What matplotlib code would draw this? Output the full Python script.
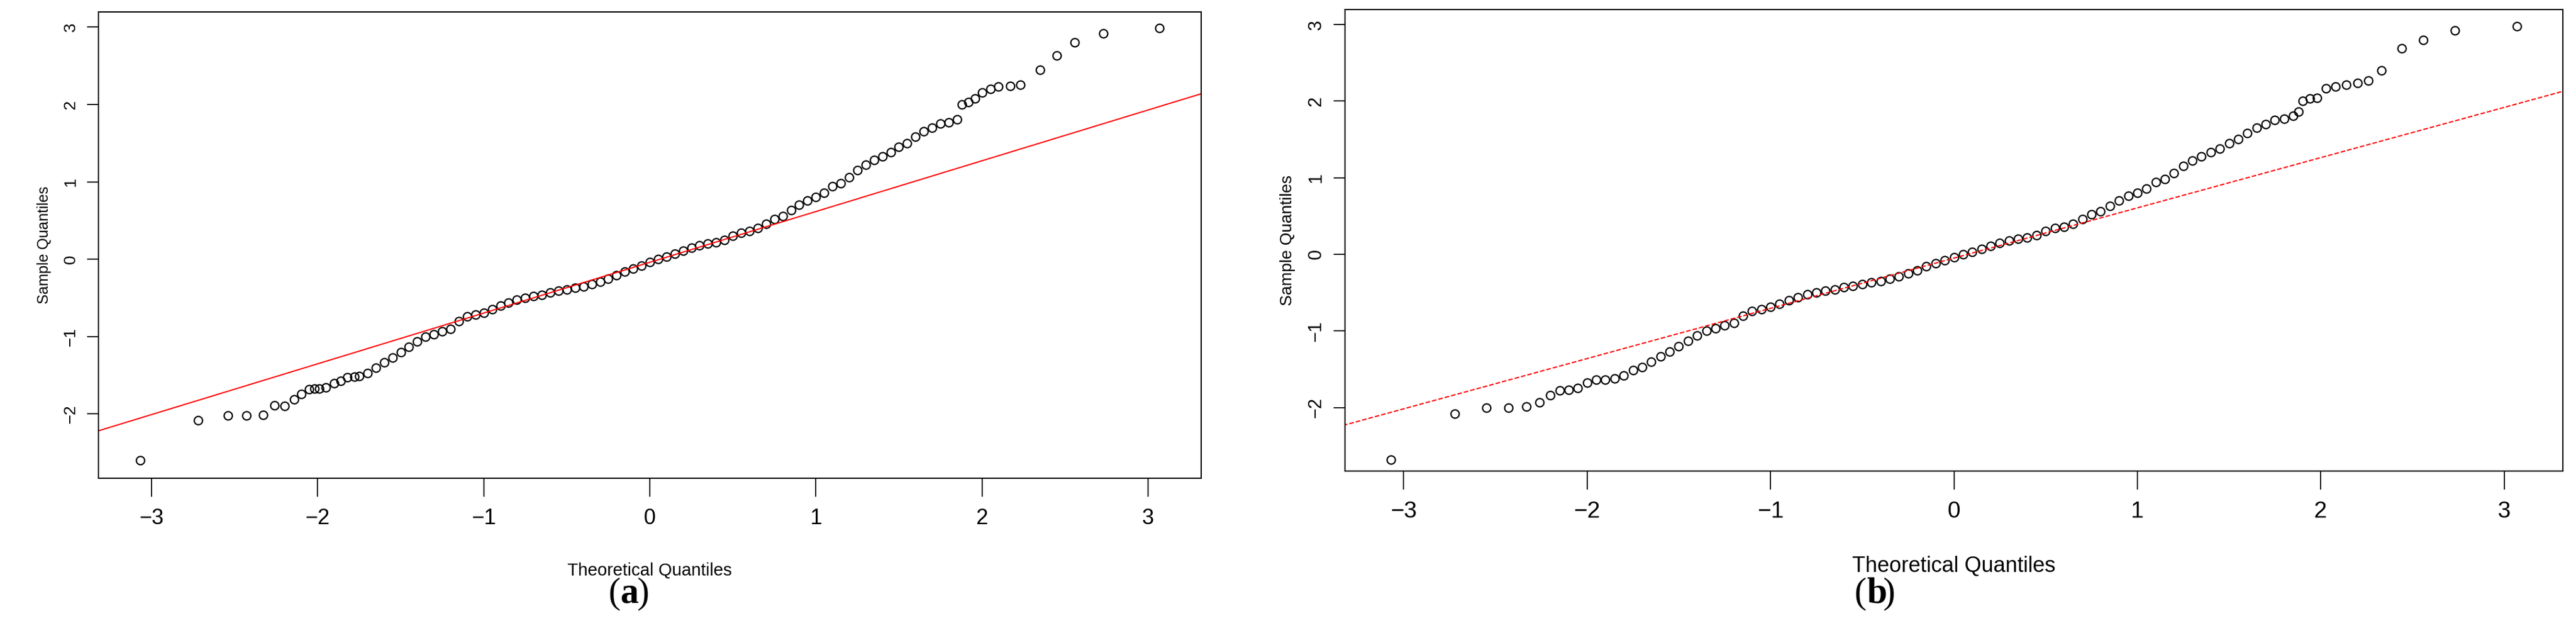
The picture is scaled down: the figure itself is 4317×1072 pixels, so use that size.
import matplotlib
matplotlib.use("Agg")
import matplotlib.pyplot as plt
from matplotlib import font_manager as fm

names = {f.name for f in fm.fontManager.ttflist}
narrow = "Liberation Sans Narrow" if "Liberation Sans Narrow" in names else "Liberation Sans"

# Dense central part (shared shape)
core_x = [-1.75,-1.70,-1.65,-1.60,-1.55,-1.50,-1.45,-1.40,-1.35,-1.30,-1.25,-1.20,-1.15,-1.10,-1.05,-1.00,
          -0.95,-0.90,-0.85,-0.80,-0.75,-0.70,-0.65,-0.60,-0.55,-0.50,-0.45,-0.40,-0.35,-0.30,-0.25,-0.20,
          -0.15,-0.10,-0.05,0.00,0.05,0.10,0.15,0.20,0.25,0.30,0.35,0.40,0.45,0.50,0.55,0.60,0.65,0.70,
          0.75,0.80,0.85,0.90,0.95,1.00,1.05,1.10,1.15,1.20,1.25,1.30,1.35,1.40,1.45,1.50,1.55,1.60,1.65,
          1.70,1.75,1.80,1.85]
core_y = [-1.51,-1.47,-1.40,-1.33,-1.27,-1.20,-1.13,-1.06,-1.00,-0.97,-0.93,-0.90,-0.80,-0.74,-0.72,-0.69,
          -0.65,-0.60,-0.56,-0.52,-0.50,-0.48,-0.46,-0.43,-0.41,-0.39,-0.37,-0.35,-0.32,-0.29,-0.25,-0.21,
          -0.16,-0.12,-0.08,-0.04,0.00,0.03,0.07,0.11,0.15,0.18,0.20,0.22,0.25,0.30,0.34,0.36,0.40,0.46,
          0.52,0.56,0.63,0.70,0.76,0.80,0.86,0.94,0.98,1.06,1.15,1.22,1.28,1.33,1.38,1.45,1.50,1.58,1.65,
          1.70,1.75,1.77,1.81]

a_low_x = [-3.07,-2.72,-2.54,-2.43,-2.33,-2.26,-2.20,-2.14,-2.10,-2.05,-2.02,-1.99,-1.95,-1.90,-1.86,-1.82,-1.78]
a_low_y = [-2.60,-2.08,-2.02,-2.02,-2.01,-1.89,-1.90,-1.81,-1.74,-1.68,-1.67,-1.67,-1.66,-1.60,-1.57,-1.53,-1.52]
a_up_x = [1.88,1.92,1.96,2.00,2.05,2.10,2.17,2.23,2.35,2.45,2.56,2.73,3.07]
a_up_y = [2.00,2.03,2.08,2.15,2.20,2.23,2.24,2.25,2.45,2.63,2.80,2.92,2.99]

b_low_x = [-3.07,-2.72,-2.55,-2.43,-2.33,-2.26,-2.20,-2.15,-2.10,-2.05,-2.00,-1.95,-1.90,-1.85,-1.80]
b_low_y = [-2.68,-2.08,-2.00,-2.00,-1.99,-1.93,-1.84,-1.78,-1.77,-1.75,-1.68,-1.64,-1.64,-1.62,-1.58]
b_up_x = [1.88,1.90,1.94,1.98,2.03,2.08,2.14,2.20,2.26,2.33,2.44,2.56,2.73,3.07]
b_up_y = [1.86,2.00,2.03,2.04,2.17,2.19,2.21,2.24,2.27,2.40,2.69,2.80,2.92,2.98]

line_x = [-3.4, 3.4]
line_a = [-2.27, 2.19]
line_b = [-2.28, 2.18]
ticks = [-3, -2, -1, 0, 1, 2, 3]

fig = plt.figure(figsize=(43.17, 10.72), dpi=100)
W, H = 4317, 1072
axA = fig.add_axes([165/W, 1-801/H, (2013-165)/W, (801-20)/H])
axB = fig.add_axes([2254/W, 1-789/H, (4295-2254)/W, (789-16)/H])

def panel(ax, lx, ly, ux, uy, liney, ls, ylfs, xlfs, tfs, ytfs):
    xs = lx + core_x + ux
    ys = ly + core_y + uy
    ax.plot(xs, ys, 'o', mfc='none', mec='black', ms=10, mew=1.6)
    ax.plot(line_x, liney, color='red', ls=ls, lw=1.5)
    ax.set_xlim(-3.32, 3.32)
    ax.set_ylim(-2.83, 3.195)
    ax.set_xticks(ticks)
    ax.set_yticks([-2, -1, 0, 1, 2, 3])
    ax.set_xticklabels([str(t).replace('-', '\u2212') for t in ticks], family=narrow, fontsize=tfs)
    ax.set_yticklabels([str(t).replace('-', '\u2212') for t in [-2, -1, 0, 1, 2, 3]],
                       rotation=90, va='center', family='Liberation Sans', fontsize=ytfs)
    ax.tick_params(axis='x', length=22, width=1.3, pad=14)
    ax.tick_params(axis='y', length=14, width=1.3, pad=10)
    for s in ax.spines.values():
        s.set_linewidth(1.5)
    ax.set_xlabel('Theoretical Quantiles', family=narrow, fontsize=xlfs, labelpad=40)
    ax.set_ylabel('Sample Quantiles', family='Liberation Sans', fontsize=ylfs, labelpad=14)

panel(axA, a_low_x, a_low_y, a_up_x, a_up_y, line_a, '-', 18, 21, 26, 20)
panel(axB, b_low_x, b_low_y, b_up_x, b_up_y, line_b, '--', 20, 26, 28, 22)

for xp, letter in [(1040, 'a'), (3128, 'b')]:
    fig.text(xp/W, 1-995/H, '(', ha='right', va='center', family='Liberation Serif', fontsize=44)
    t = fig.text(xp/W, 1-995/H, letter, ha='left', va='center', family='Liberation Serif', fontsize=44, weight='bold')
    fig.text((xp + 27)/W, 1-995/H, ')', ha='left', va='center', family='Liberation Serif', fontsize=44)

fig.savefig('out.png', dpi=100)
